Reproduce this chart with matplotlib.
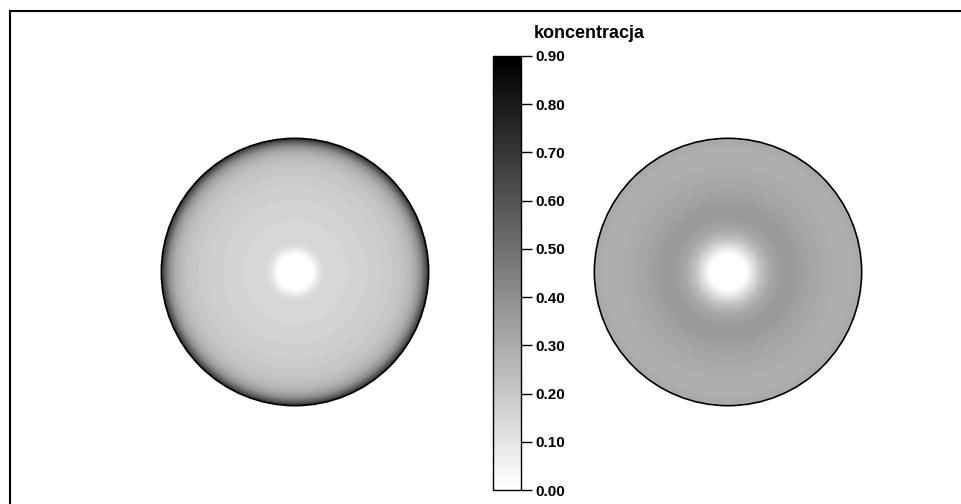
import numpy as np
import matplotlib
matplotlib.use("Agg")
import matplotlib.pyplot as plt
from matplotlib.patches import Circle
from matplotlib.colors import Normalize, ListedColormap
from matplotlib.lines import Line2D

plt.rcParams['font.family'] = ['Liberation Sans', 'DejaVu Sans']
plt.rcParams['font.weight'] = 'bold'

# radial concentration profiles (r normalised to disk radius)
r_left = [0.0, 0.11, 0.14, 0.18, 0.22, 0.30, 0.40, 0.50, 0.60, 0.70, 0.80, 0.86, 0.90, 0.94, 0.97, 1.00]
c_left = [0.0, 0.00, 0.02, 0.10, 0.145, 0.15, 0.155, 0.165, 0.175, 0.19, 0.215, 0.25, 0.30, 0.40, 0.55, 0.74]

r_right = [0.0, 0.12, 0.15, 0.19, 0.25, 0.32, 0.40, 0.47, 0.55, 0.65, 0.75, 0.85, 0.92, 1.00]
c_right = [0.0, 0.00, 0.03, 0.11, 0.23, 0.31, 0.355, 0.365, 0.34, 0.315, 0.30, 0.285, 0.29, 0.31]

cbar_ticks = [0.0, 0.1, 0.2, 0.3, 0.4, 0.5, 0.6, 0.7, 0.8, 0.9]
cbar_title = "koncentracja"
vmin, vmax = 0.0, 0.9

W, H = 961, 504
fig = plt.figure(figsize=(W / 100, H / 100), dpi=100)

cmap = ListedColormap(plt.get_cmap('gray_r')(np.linspace(0, 1, 64)))
norm = Normalize(vmin, vmax)


def px_axes(x0, y0, w, h):
    # x0, y0 = top-left corner in pixels from the top of the image
    return fig.add_axes([x0 / W, (H - y0 - h) / H, w / W, h / H])


def disk(ax, rr, cc):
    n = 400
    g = np.linspace(-1, 1, n)
    X, Y = np.meshgrid(g, g)
    R = np.sqrt(X**2 + Y**2)
    Z = np.interp(R, rr, cc)
    im = ax.imshow(Z, extent=[-1, 1, -1, 1], origin='lower', cmap=cmap, norm=norm,
                   interpolation='bilinear')
    circ = Circle((0, 0), 1.0, transform=ax.transData, fc='none', ec='black', lw=1.2)
    im.set_clip_path(circ)
    ax.add_patch(circ)
    ax.set_xlim(-1.01, 1.01)
    ax.set_ylim(-1.01, 1.01)
    ax.set_aspect('equal')
    ax.axis('off')


ax1 = px_axes(160, 137, 270, 270)
disk(ax1, r_left, c_left)
ax2 = px_axes(593, 137, 270, 270)
disk(ax2, r_right, c_right)

# colorbar
cax = px_axes(493, 56, 28, 434)
sm = matplotlib.cm.ScalarMappable(norm=norm, cmap=cmap)
cb = fig.colorbar(sm, cax=cax, ticks=cbar_ticks, format='%.2f')
cb.outline.set_linewidth(1.0)
cb.outline.set_edgecolor('black')
cax.tick_params(length=8, width=1, labelsize=11, pad=2)
for t in cax.get_yticklabels():
    t.set_fontweight('bold')
fig.text(534 / W, 1 - 33 / H, cbar_title, fontsize=13, fontweight='bold',
         ha='left', va='center')

# open frame around the picture
fig.add_artist(Line2D([9.5 / W, 9.5 / W], [0, 1 - 10.5 / H], color='black', lw=1.5,
                      transform=fig.transFigure))
fig.add_artist(Line2D([9.5 / W, 1], [1 - 10.5 / H, 1 - 10.5 / H], color='black', lw=1.5,
                      transform=fig.transFigure))

fig.savefig("out.png", dpi=100)
